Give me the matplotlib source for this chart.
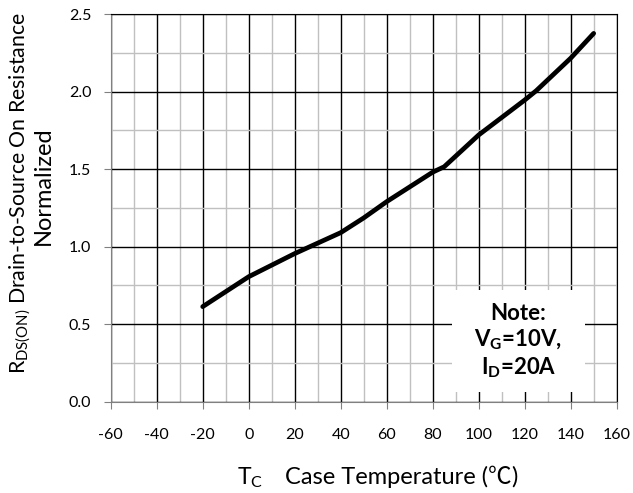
import matplotlib
matplotlib.use("Agg")
import matplotlib.pyplot as plt
from matplotlib.ticker import MultipleLocator
from matplotlib.patches import Rectangle

FONT = 'Lato'
plt.rcParams['font.family'] = [FONT, 'DejaVu Sans']
plt.rcParams['mathtext.fontset'] = 'custom'
plt.rcParams['mathtext.rm'] = FONT
plt.rcParams['mathtext.bf'] = FONT + ':bold'
plt.rcParams['mathtext.default'] = 'regular'
plt.rcParams['axes.unicode_minus'] = False

temps = [-20, 0, 20, 40, 50, 60, 80, 85, 100, 120, 125, 140, 150]
rds_norm = [0.613, 0.806, 0.955, 1.09, 1.185, 1.29, 1.48, 1.515, 1.72, 1.945, 2.005, 2.215, 2.375]

x_ticks = list(range(-60, 161, 20))
y_ticks = [0.0, 0.5, 1.0, 1.5, 2.0, 2.5]
y_tick_labels = ["0.0", "0.5", "1.0", "1.5", "2.0", "2.5"]

W, H = 633, 493
fig = plt.figure(figsize=(W / 100, H / 100), dpi=100)
ax = fig.add_axes([0.1749, 0.1852, 0.7993, 0.7864])

ax.set_xlim(-60, 160)
ax.set_ylim(0, 2.5)
ax.set_xticks(x_ticks)
ax.set_yticks(y_ticks)
ax.set_yticklabels(y_tick_labels)
ax.xaxis.set_minor_locator(MultipleLocator(10))
ax.yaxis.set_minor_locator(MultipleLocator(0.25))
ax.grid(which='minor', color='#c0c0c0', linewidth=1.0)
ax.grid(which='major', color='black', linewidth=1.0)
ax.set_axisbelow(True)
ax.tick_params(which='minor', length=0)
ax.tick_params(which='major', length=5, color='#808080', labelsize=11.5)
ax.tick_params(axis='y', pad=9)
ax.tick_params(axis='x', pad=14)
for s in ['top', 'right']:
    ax.spines[s].set_color('black')
for s in ['left', 'bottom']:
    ax.spines[s].set_color('#808080')

ax.plot(temps, rds_norm, color='black', linewidth=3.4, solid_capstyle='round', zorder=3)

ax.add_patch(Rectangle((0.6745, 0.025), 0.2625, 0.263, transform=ax.transAxes,
                       facecolor='white', edgecolor='none', zorder=4))
ax.text(0.806, 0.155, "Note:\n$V_G$=10V,\n$I_D$=20A", transform=ax.transAxes,
        ha='center', va='center', fontsize=16, fontweight='bold', linespacing=1.2,
        zorder=5)

# y label (two lines)
fig.text(25 / W, 1 - 193 / H, "R$_{DS(ON)}$ Drain-to-Source On Resistance", fontsize=15.3,
         rotation=90, rotation_mode='anchor', ha='center', va='baseline')
fig.text(50 / W, 1 - 186 / H, "Normalized", fontsize=17,
         rotation=90, rotation_mode='anchor', ha='center', va='baseline')

# x label pieces, laid out left to right
renderer = fig.canvas.get_renderer()
base_y = 9 / H
fig.text(237 / W, base_y, "T$_C$", fontsize=16.5, ha='left', va='baseline')
x = 285 / W
for piece, fam in [("Case Temperature (", [FONT]), ("\u2103", ['Noto Sans CJK SC', 'DejaVu Sans']), (")", [FONT])]:
    t = fig.text(x, base_y, piece, fontsize=17, ha='left', va='baseline', family=fam)
    bb = t.get_window_extent(renderer)
    x = bb.x1 / W

fig.savefig("out.png", dpi=100)
